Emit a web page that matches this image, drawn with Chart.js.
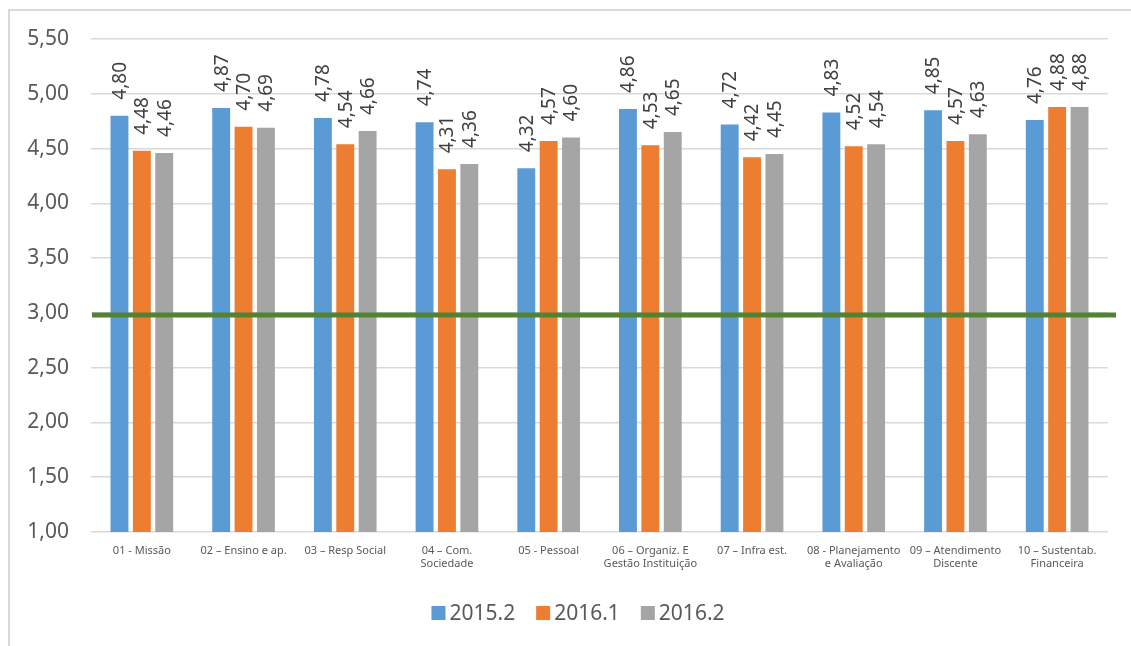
<!DOCTYPE html>
<html>
<head>
<meta charset="utf-8">
<script src="https://cdn.jsdelivr.net/npm/chart.js@4.4.1/dist/chart.umd.min.js"></script>
<style>
    body { margin: 0; background: #fff; }
    #wrap { position: relative; width: 1131px; height: 646px; overflow: hidden; }
    #chart { position: absolute; left: 0; top: 0; }
    #frame { position: absolute; left: 8px; top: 9px; width: 1200px; height: 700px;
             border: 2px solid #D9D9D9; pointer-events: none; }
</style>
</head>
<body>
<div id="wrap">
    <canvas id="chart" width="1131" height="646"></canvas>
    <div id="frame"></div>
</div>
<script>
// 类别（多行标签）
const categories = [
    ['01 - Missão'],
    ['02 – Ensino e ap.'],
    ['03 – Resp Social'],
    ['04 – Com.', 'Sociedade'],
    ['05 - Pessoal'],
    ['06 – Organiz. E', 'Gestão Instituição'],
    ['07 – Infra est.'],
    ['08 - Planejamento', 'e Avaliação'],
    ['09 – Atendimento', 'Discente'],
    ['10 – Sustentab.', 'Financeira']
];

// 各学期数据
const series2015_2 = [4.80, 4.87, 4.78, 4.74, 4.32, 4.86, 4.72, 4.83, 4.85, 4.76];
const series2016_1 = [4.48, 4.70, 4.54, 4.31, 4.57, 4.53, 4.42, 4.52, 4.57, 4.88];
const series2016_2 = [4.46, 4.69, 4.66, 4.36, 4.60, 4.65, 4.45, 4.54, 4.63, 4.88];

// 参考线（3,00）
const referenceValue = 3.0;

// Y 轴范围
const yMin = 1.0;
const yMax = 5.5;
const yStep = 0.5;

const fmt = v => v.toFixed(2).replace('.', ',');

// 柱顶旋转标签
const barLabels = {
    id: 'barLabels',
    afterDatasetsDraw(chart) {
        const ctx = chart.ctx;
        ctx.save();
        ctx.fillStyle = '#404040';
        ctx.font = '19px "Noto Sans", sans-serif';
        ctx.textAlign = 'left';
        ctx.textBaseline = 'middle';
        chart.data.datasets.forEach((ds, i) => {
            chart.getDatasetMeta(i).data.forEach((bar, j) => {
                ctx.save();
                ctx.translate(bar.x + 1, bar.y - 16);
                ctx.rotate(-Math.PI / 2);
                ctx.fillText(fmt(ds.data[j]), 0, 0);
                ctx.restore();
            });
        });
        ctx.restore();
    }
};

// 绿色参考线
const refLine = {
    id: 'refLine',
    afterDatasetsDraw(chart) {
        const ctx = chart.ctx;
        const y = chart.scales.y.getPixelForValue(referenceValue) + 2;
        ctx.save();
        ctx.strokeStyle = '#548235';
        ctx.lineWidth = 5;
        ctx.beginPath();
        ctx.moveTo(chart.chartArea.left + 1, y);
        ctx.lineTo(chart.chartArea.right + 8, y);
        ctx.stroke();
        ctx.restore();
    }
};

// 底部图例（Excel 风格：小方块 + 紧贴文字）
const bottomLegend = {
    id: 'bottomLegend',
    afterDraw(chart) {
        const ctx = chart.ctx;
        const box = 14, gap = 4, spacing = 21, centerX = 578, centerY = 613;
        ctx.save();
        ctx.font = '21px "Noto Sans", sans-serif';
        ctx.textBaseline = 'middle';
        ctx.textAlign = 'left';
        const items = chart.data.datasets.map(ds => ({
            text: ds.label, color: ds.backgroundColor,
            w: box + gap + ctx.measureText(ds.label).width
        }));
        const total = items.reduce((s, it) => s + it.w, 0) + spacing * (items.length - 1);
        let x = centerX - total / 2;
        items.forEach(it => {
            ctx.fillStyle = it.color;
            ctx.fillRect(x, centerY - box / 2, box, box);
            ctx.fillStyle = '#595959';
            ctx.fillText(it.text, x + box + gap, centerY + 1);
            x += it.w + spacing;
        });
        ctx.restore();
    }
};

const ctx = document.getElementById('chart').getContext('2d');
new Chart(ctx, {
    type: 'bar',
    data: {
        labels: categories,
        datasets: [
            { label: '2015.2', data: series2015_2, backgroundColor: '#5B9BD5', borderWidth: 0 },
            { label: '2016.1', data: series2016_1, backgroundColor: '#ED7D31', borderWidth: 0 },
            { label: '2016.2', data: series2016_2, backgroundColor: '#A5A5A5', borderWidth: 0 }
        ]
    },
    options: {
        responsive: false,
        animation: false,
        layout: { padding: { left: 20, top: 39, right: 23, bottom: 64 } },
        datasets: {
            bar: { categoryPercentage: 0.66, barPercentage: 0.8 }
        },
        scales: {
            x: {
                grid: { display: false },
                border: { display: false },
                ticks: {
                    color: '#595959',
                    font: { family: 'Noto Sans', size: 11 },
                    maxRotation: 0,
                    autoSkip: false,
                    padding: 4
                },
                afterFit: s => { s.height = 50; }
            },
            y: {
                min: yMin,
                max: yMax,
                grid: { color: '#D9D9D9', lineWidth: 1.5, drawTicks: false },
                border: { display: false },
                ticks: {
                    stepSize: yStep,
                    color: '#595959',
                    font: { family: 'Noto Sans', size: 21 },
                    padding: 22,
                    callback: v => fmt(v)
                },
                afterFit: s => { s.width = 71; }
            }
        },
        plugins: {
            legend: { display: false },
            tooltip: { enabled: false }
        }
    },
    plugins: [barLabels, refLine, bottomLegend]
});
</script>
</body>
</html>
